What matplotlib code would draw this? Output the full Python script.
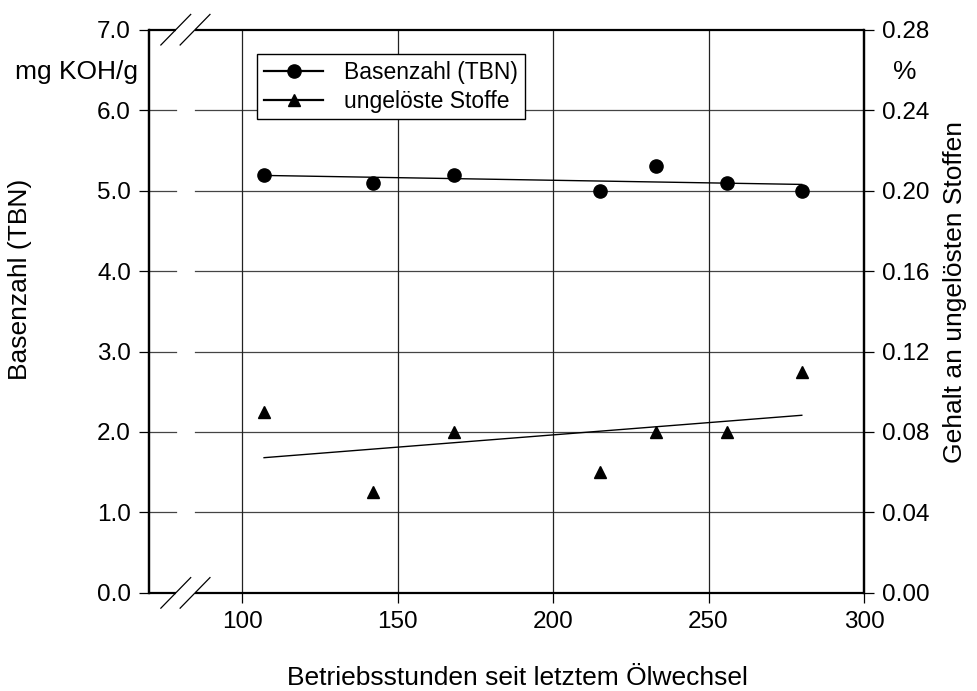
import matplotlib
matplotlib.use("Agg")
import matplotlib.pyplot as plt
import numpy as np
from matplotlib.lines import Line2D

plt.rcParams["font.family"] = ["Liberation Sans", "DejaVu Sans"]

# operating hours since last oil change
hours = [107, 142, 168, 215, 233, 256, 280]
tbn = [5.2, 5.1, 5.2, 5.0, 5.3, 5.1, 5.0]            # mg KOH/g
insolubles = [0.09, 0.05, 0.08, 0.06, 0.08, 0.08, 0.11]  # %

x_ticks = [100, 150, 200, 250, 300]
tbn_ticks = [0.0, 1.0, 2.0, 3.0, 4.0, 5.0, 6.0, 7.0]
pct_ticks = [0.00, 0.04, 0.08, 0.12, 0.16, 0.20, 0.24, 0.28]

x_min = 70
break_lo, break_hi = 78.6, 84.8  # axis break between the slashes

fig = plt.figure(figsize=(9.78, 6.91), dpi=100)
ax = fig.add_axes([0.1524, 0.142, 0.7310, 0.815])
ax2 = ax.twinx()

ax.set_xlim(x_min, 300)
ax.set_ylim(0, 7)
ax2.set_ylim(0, 0.28)

# grid, interrupted at the break
for yv in tbn_ticks[1:-1]:
    ax.plot([x_min, break_lo], [yv, yv], color="#444444", lw=0.9, zorder=1)
    ax.plot([break_hi, 300], [yv, yv], color="#444444", lw=0.9, zorder=1)
for xv in x_ticks[:-1]:
    ax.axvline(xv, color="#222222", lw=0.9, zorder=1)

# data + linear trends
ax.plot(hours, tbn, "o", color="black", ms=9.5, zorder=3)
k, d = np.polyfit(hours, tbn, 1)
ax.plot([hours[0], hours[-1]], [k * hours[0] + d, k * hours[-1] + d], color="black", lw=1.0, zorder=2)

ax2.plot(hours, insolubles, "^", color="black", ms=9, zorder=3)
k2, d2 = np.polyfit(hours, insolubles, 1)
ax2.plot([hours[0], hours[-1]], [k2 * hours[0] + d2, k2 * hours[-1] + d2], color="black", lw=1.0, zorder=2)

# ticks
ax.set_xticks(x_ticks)
ax.set_yticks(tbn_ticks)
ax.set_yticklabels([f"{v:.1f}" for v in tbn_ticks])
ax2.set_yticks(pct_ticks)
ax2.set_yticklabels([f"{v:.2f}" for v in pct_ticks])
for a in (ax, ax2):
    a.tick_params(direction="out", length=7, width=0.9, pad=6, labelsize=17.5)
    for s in a.spines.values():
        s.set_linewidth(1.6)

# spines with break gap on top and bottom
for side in ("top", "bottom"):
    ax.spines[side].set_visible(False)
    ax2.spines[side].set_visible(False)
for yv in (0, 7):
    ax.plot([x_min, break_lo], [yv, yv], color="black", lw=1.6, clip_on=False, zorder=4, solid_capstyle="butt")
    ax.plot([break_hi, 300], [yv, yv], color="black", lw=1.6, clip_on=False, zorder=4, solid_capstyle="butt")
    for xc in (break_lo, break_hi):
        ax.plot([xc - 4.8, xc + 4.8], [yv - 0.19, yv + 0.19], color="black", lw=0.9,
                clip_on=False, zorder=5)

# labels
ax.set_xlabel("Betriebsstunden seit letztem Ölwechsel", fontsize=19, va="center")
ax.xaxis.set_label_coords(0.515, -0.151)
ax.set_ylabel("Basenzahl (TBN)", fontsize=19, va="center")
ax.yaxis.set_label_coords(-0.180, 0.556)
ax2.set_ylabel("Gehalt an ungelösten Stoffen", fontsize=19, va="center")
ax2.yaxis.set_label_coords(1.127, 0.535)
ax.text(-0.016, 0.925, "mg KOH/g", transform=ax.transAxes, ha="right", va="center", fontsize=19)
ax2.text(1.057, 0.925, "%", transform=ax2.transAxes, ha="center", va="center", fontsize=19)

handles = [
    Line2D([0], [0], color="black", lw=1.6, marker="o", ms=9.5, label="Basenzahl (TBN)"),
    Line2D([0], [0], color="black", lw=1.6, marker="^", ms=9, label="ungelöste Stoffe"),
]
leg = ax2.legend(handles=handles, loc="upper left", bbox_to_anchor=(0.151, 0.957),
                 borderaxespad=0, fontsize=16.5, fancybox=False, framealpha=1,
                 edgecolor="black", handlelength=2.6, handletextpad=0.9,
                 borderpad=0.3, labelspacing=0.25)
leg.get_frame().set_linewidth(1.0)

fig.savefig("out.png", dpi=100)
